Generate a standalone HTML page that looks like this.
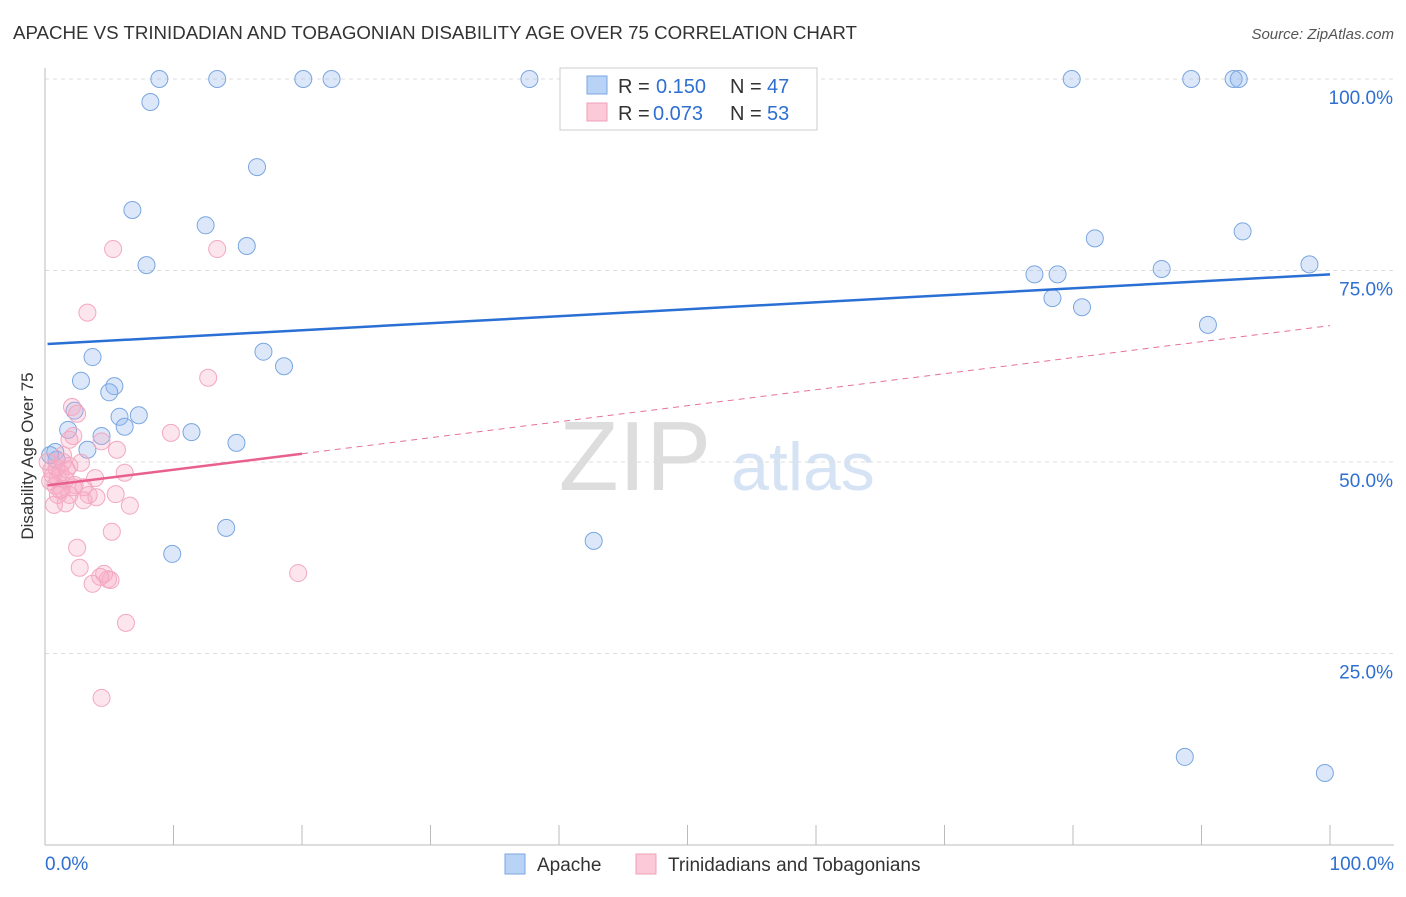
<!DOCTYPE html>
<html><head><meta charset="utf-8"><style>
body{margin:0;background:#fff;font-family:"Liberation Sans",sans-serif;}
svg text{font-family:"Liberation Sans",sans-serif;}
</style></head><body>
<svg id="c" width="1406" height="892">
<text x="13" y="39" font-size="18.7" fill="#333">APACHE VS TRINIDADIAN AND TOBAGONIAN DISABILITY AGE OVER 75 CORRELATION CHART</text>
<text x="1394" y="39" font-size="15" fill="#555" text-anchor="end" font-style="italic">Source: ZipAtlas.com</text>
<text x="33" y="456" font-size="17" fill="#333" text-anchor="middle" transform="rotate(-90 33 456)">Disability Age Over 75</text>
<text x="635" y="490" font-size="98" fill="#ddd" text-anchor="middle" font-family="Liberation Serif">ZIP</text>
<text x="803" y="490" font-size="68" fill="#d5e3f5" text-anchor="middle">atlas</text>
<g id="grid"></g><g id="marks"></g>
<g>
<rect x="560" y="68" width="257" height="62" fill="#fff" stroke="#ccc"/>
<rect x="587" y="76" width="20" height="18" fill="#b8d3f5" stroke="#7aa6e0"/>
<text x="618" y="93" font-size="20" fill="#333">R =</text>
<text x="656" y="93" font-size="20" fill="#2e6fd0">0.150</text>
<text x="730" y="93" font-size="20" fill="#333">N =</text>
<text x="767" y="93" font-size="20" fill="#2e6fd0">47</text>
<rect x="587" y="103" width="20" height="18" fill="#fbc9d8" stroke="#f0a0b8"/>
<text x="618" y="120" font-size="20" fill="#333">R =</text>
<text x="653" y="120" font-size="20" fill="#2e6fd0">0.073</text>
<text x="730" y="120" font-size="20" fill="#333">N =</text>
<text x="767" y="120" font-size="20" fill="#2e6fd0">53</text>
</g>
<g>
<rect x="505" y="854" width="20" height="20" fill="#b8d3f5" stroke="#7aa6e0"/>
<text x="537" y="871" font-size="19" fill="#333">Apache</text>
<rect x="636" y="854" width="20" height="20" fill="#fbc9d8" stroke="#f0a0b8"/>
<text x="668" y="871" font-size="19" fill="#333">Trinidadians and Tobagonians</text>
</g>
</svg>
<script>
const blueX=[8.9,13.4,20.1,22.3,37.7,8.2,16.5,6.8,12.5,15.7,7.9,3.7,17.0,18.6,2.8,5.4,5.0,2.3,5.8,7.3,6.2,1.8,4.4,11.4,14.9,3.3,0.8,14.1,9.9,42.7,79.9,89.2,92.5,92.9,81.7,93.2,77.0,78.8,86.9,98.4,78.4,80.7,90.5,88.7,99.6,0.9,0.4];
const blueY=[100,100,100,100,100,97.0,88.5,82.9,80.9,78.2,75.7,63.7,64.4,62.5,60.6,59.9,59.1,56.7,55.9,56.1,54.6,54.2,53.4,53.9,52.5,51.6,51.3,41.4,38.0,39.7,100,100,100,100,79.2,80.1,74.5,74.5,75.2,75.8,71.4,70.2,67.9,11.5,9.4,50.3,50.9];
const pinkX=[5.3,13.4,3.3,12.7,2.1,2.5,2.2,1.9,4.4,9.8,5.6,1.4,2.8,1.9,0.9,0.5,1.2,6.2,3.9,1.6,0.4,0.8,2.2,1.3,3.0,5.5,3.4,3.0,0.7,1.6,6.6,5.2,2.5,2.7,4.6,4.9,5.1,4.3,3.7,19.7,6.3,4.4,1.0,1.7,0.6,1.2,0.2,2.3,4.0,1.4,1.9,1.0];
const pinkY=[77.8,77.8,69.5,61.0,57.2,56.3,53.4,52.9,52.7,53.8,51.6,50.9,49.9,49.5,49.2,49.0,48.6,48.6,47.9,47.7,47.5,46.9,46.7,46.5,46.7,45.8,45.7,45.0,44.4,44.6,44.3,40.9,38.8,36.2,35.4,34.7,34.6,35.0,34.1,35.5,29.0,19.2,47.9,49.0,48.3,46.3,50.0,47.0,45.4,50.0,45.7,45.7];
const blueTrend=[65.4,74.5];
const pinkTrend=[46.9,67.8];
const yTicks=[25,50,75,100];
const yTickLabels=["25.0%","50.0%","75.0%","100.0%"];
const xTickLabels=["0.0%","100.0%"];
const NS="http://www.w3.org/2000/svg";
const sx=v=>45+v*12.85, sy=v=>845-v*7.66;
function mk(t,a,p){const e=document.createElementNS(NS,t);for(const k in a)e.setAttribute(k,a[k]);p.appendChild(e);return e;}
const g=document.getElementById('grid'),m=document.getElementById('marks');
yTicks.forEach((t,i)=>{
 const l=mk('line',{x1:45,x2:1394,y1:sy(t),y2:sy(t),stroke:'#ddd','stroke-dasharray':'4,4'},g);
 
 
 const tx=mk('text',{x:1393,y:sy(t)+25,'font-size':19,fill:'#2e6fd0','text-anchor':'end'},g);tx.textContent=yTickLabels[i];
 
 
});
mk('line',{x1:45,x2:45,y1:68,y2:845,stroke:'#bbb'},g);
mk('line',{x1:45,x2:1394,y1:845,y2:845,stroke:'#bbb'},g);
for(let i=0;i<=10;i++){mk('line',{x1:sx(i*10),x2:sx(i*10),y1:825,y2:845,stroke:'#bbb'},g);}
[[0,'start',45],[100,'end',1394]].forEach((d,i)=>{const t=mk('text',{x:d[2],y:870,'font-size':19,fill:'#2e6fd0','text-anchor':d[1]},g);t.textContent=xTickLabels[i];
 
 });
function pts(X,Y,fill,stroke,name){X.forEach((x,i)=>{const c=mk('circle',{cx:sx(x),cy:sy(Y[i]),r:8.5,fill:fill,stroke:stroke,'stroke-width':1},m);
 
 });}
pts(blueX,blueY,'rgba(140,180,240,0.3)','#7aa6e0','apache-point');
pts(pinkX,pinkY,'rgba(248,170,195,0.3)','#f2a8c0','trinidadian-point');
const bl=mk('line',{x1:sx(0.2),y1:sy(blueTrend[0]),x2:sx(100),y2:sy(blueTrend[1]),stroke:'#2a6fd4','stroke-width':2.5},m);


const py=x=>pinkTrend[0]+(pinkTrend[1]-pinkTrend[0])*x/100;
const pd=mk('line',{x1:sx(20),y1:sy(py(20)),x2:sx(100),y2:sy(py(100)),stroke:'#e87098','stroke-width':1,'stroke-dasharray':'6,5'},m);


const ps=mk('line',{x1:sx(0.2),y1:sy(py(0.2)),x2:sx(20),y2:sy(py(20)),stroke:'#e8608e','stroke-width':2.5},m);


</script>
</body></html>
